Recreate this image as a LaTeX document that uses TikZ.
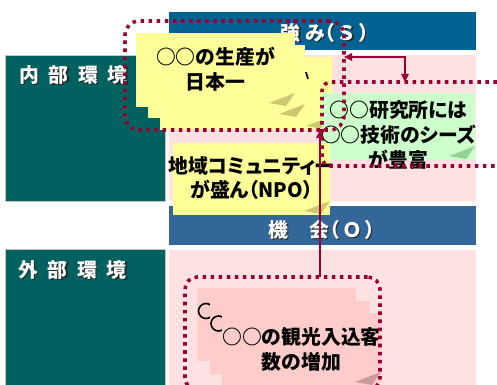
\documentclass[tikz,border=0pt]{standalone}
\usepackage{fontspec}
\newfontfamily\jp{Noto Sans CJK JP}[RawFeature=+palt]
\usepackage{tikz}
\usetikzlibrary{calc,fit,arrows.meta}
\definecolor{panelteal}{RGB}{0,98,96}
\definecolor{headS}{RGB}{0,99,146}
\definecolor{headO}{RGB}{51,102,153}
\definecolor{areapink}{RGB}{255,225,225}
\definecolor{noteyellow}{RGB}{255,255,153}
\definecolor{notegreen}{RGB}{204,255,204}
\definecolor{notepink}{RGB}{255,204,204}
\definecolor{markred}{RGB}{153,0,51}
\tikzset{
	box/.style={inner sep=0pt, outer sep=0pt},
	panel/.style={box, fill=panelteal, draw=gray!45, line width=0.5pt},
	area/.style={box, fill=areapink},
	note/.style={box},
	note text/.style={inner sep=0pt, align=center, font=\jp\bfseries\fontsize{11.3}{14.2}\selectfont},
	white txt/.style={inner sep=0pt, text=white, font=\jp\bfseries\fontsize{11.3}{13}\selectfont},
	shadow txt/.style={white txt, text=black!85},
	frame/.style={box, draw=markred, line width=2pt, dash pattern=on 2pt off 2.6pt},
	link/.style={draw=markred, line width=1.2pt},
	tip/.tip={Triangle[length=4.6pt,width=4.2pt]}
}
\newcommand\castlabel[3]{%
	\node[shadow txt, #1] at ($#2+(1.3,1.3)$) {#3};
	\node[white txt, #1] at #2 {#3};}
\begin{document}
\begin{tikzpicture}[x=0.02cm, y=-0.02cm]
	\useasboundingbox (0,0) rectangle (497,385);
	\fill[white] (0,0) rectangle (497,385);

	\node[panel, fit={(5,55) (165,201)}] (inner) {};
	\node[panel, fit={(5,249) (165,400)}] (outer) {};
	\node[box, fill=headS, fit={(169,12) (476,50)}] (headS) {};
	\node[area, fit={(169,55) (476,201)}] (areaS) {};
	\node[box, fill=headO, fit={(169,206) (476,245)}] (headO) {};
	\node[area, fit={(169,250) (476,400)}] (areaO) {};

	\castlabel{anchor=west}{(19,75)}{内\hspace{5.5pt}部\hspace{5.5pt}環\hspace{5.5pt}境}
	\castlabel{anchor=west}{(18,270)}{外\hspace{5.5pt}部\hspace{5.5pt}環\hspace{5.5pt}境}
	\castlabel{}{(325,33)}{強\hspace{2.5pt}み（ Ｓ ）}
	\castlabel{}{(322,230)}{機\hspace{12pt}会（ Ｏ ）}

	\foreach \xa/\ya/\xb/\yb [count=\i] in {160/57/332/130, 148/45/305/118, 136/33/295/107} {
		\node[note, fill=noteyellow, fit={(\xa,\ya) (\xb,\yb)}] (ynote\i) {};
		\fill[olive!45] (\xb,\yb-14) -- (\xb-26,\yb-4) -- (\xb-9,\yb-1) -- cycle;
	}
	\draw[line width=1pt] (306,72) -- (308,79);
	\node[note text] at ($(ynote3.center)+(0,-1)$) {○○の生産が\\日本一};

	\node[note, fill=notegreen, fit={(322,93) (475,160)}] (gnote) {};
	\fill[green!40!gray!60] (475,146) -- (449,156) -- (466,159) -- cycle;
	\node[note text] at ($(gnote.center)+(0,8)$) {○○研究所には\\○○技術のシーズ\\が豊富};

	\node[note, fill=noteyellow, fit={(173,143) (330,215)}] (cnote) {};
	\fill[olive!45] (330,201) -- (304,211) -- (321,214) -- cycle;
	\node[note text] at ($(cnote.center)+(0,-1)$) {地域コミュニティー\\が盛ん（NPO）};

	\foreach \d [count=\i] in {0,12.5,25} {
		\node[note, fill=notepink, fit={(197+\d,288+\d) (356+\d,361+\d)}] (pnote\i) {};
		\fill[red!30!gray!60] (356+\d,347+\d) -- (330+\d,357+\d) -- (347+\d,360+\d) -- cycle;
		\ifnum\i<3 \draw[line width=0.9pt] (206+\d,311+\d) circle[radius=7.5];\fi
	}
	\node[note text] at ($(pnote3.center)+(0,-0.5)$) {○○の観光入込客\\数の増加};

	\node[frame, rounded corners=8pt, fit={(125,21) (344,130)}] (sframe) {};
	\node[frame, rounded corners=5pt, fit={(322,82) (530,166)}] (wframe) {};
	\node[frame, rounded corners=7pt, fit={(185,277) (380,390)}] (oframe) {};

	\coordinate (bend) at (405,57);
	\coordinate (stem) at (320,0);
	\draw[link, {tip}-{tip}] (sframe.east |- bend) -- (bend) -- (bend |- wframe.north);
	\draw[link, -{tip}] (oframe.north -| stem) -- (sframe.south -| stem);
\end{tikzpicture}
\end{document}
